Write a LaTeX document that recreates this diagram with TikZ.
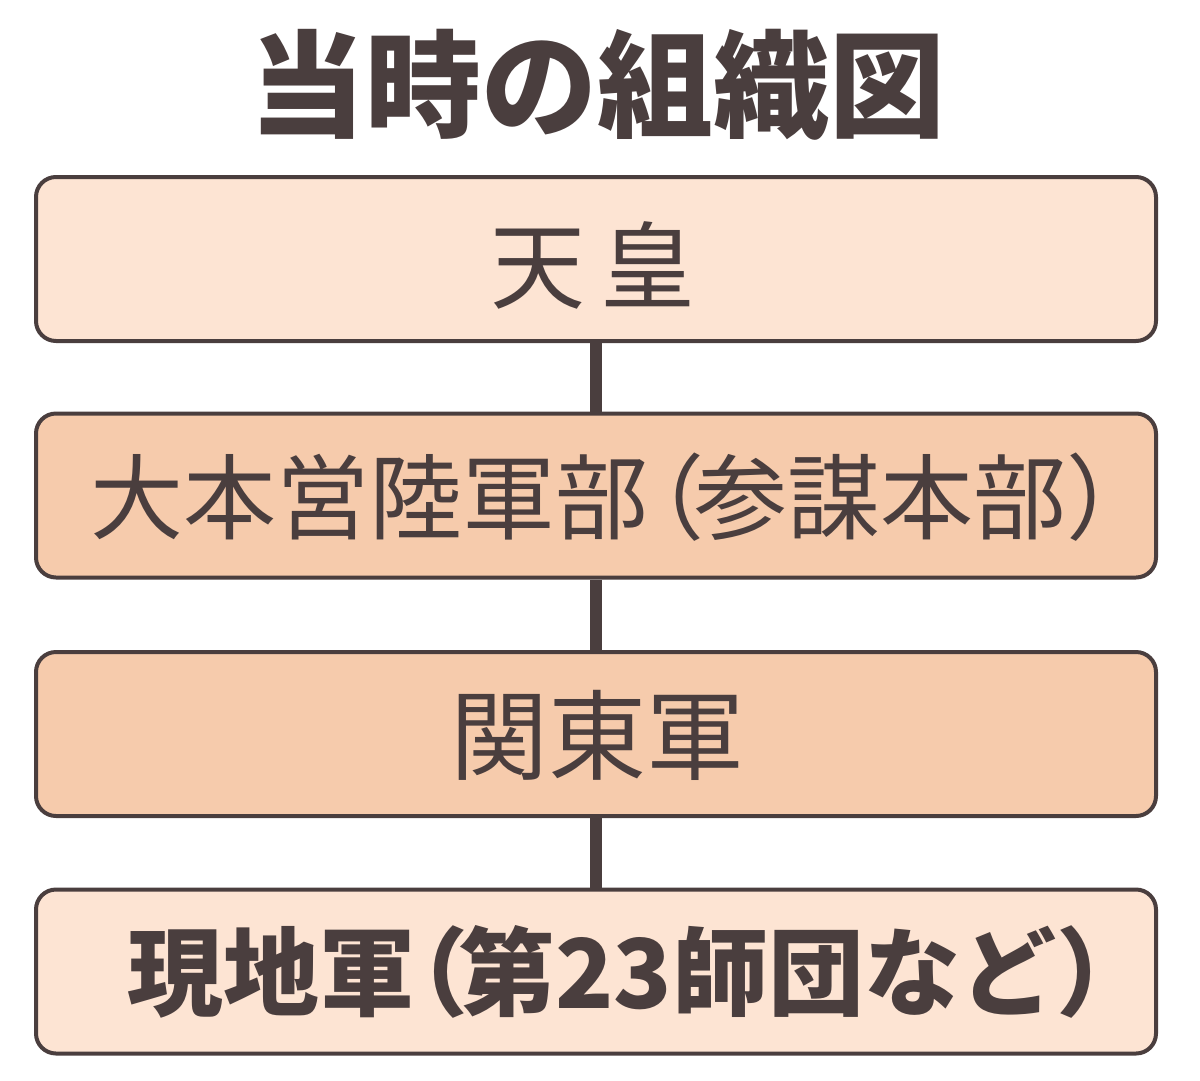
\documentclass[tikz,border=0pt]{standalone}
\usepackage{fontspec}
\newfontfamily\jp{Noto Sans CJK JP}
\definecolor{ink}{HTML}{4A3E3E}
\definecolor{lightfill}{HTML}{FDE4D3}
\definecolor{darkfill}{HTML}{F6CBAC}
\tikzset{
  orgbox/.style={draw=ink, line width=4pt, rounded corners=20pt, minimum width=1120pt, minimum height=164pt, inner sep=0pt},
  boxtext/.style={text=ink, inner sep=0pt},
  link/.style={draw=ink, line width=12pt}
}
\begin{document}
\begin{tikzpicture}[x=1pt,y=-1pt]
\useasboundingbox (0,0) rectangle (1200,1080);
\node[text=ink, font=\jp\bfseries\fontsize{116}{116}\selectfont] (title) at (597,85) {当時の組織図};
\node[orgbox, fill=lightfill] (b1) at (596,259) {};
\node[orgbox, fill=darkfill] (b2) at (596,495.5) {};
\node[orgbox, fill=darkfill] (b3) at (596,734) {};
\node[orgbox, fill=lightfill] (b4) at (596,971.5) {};
\node[boxtext, font=\jp\fontsize{95}{95}\selectfont] (t1) at (593,265) {天\hspace{15pt}皇};
\node[boxtext, font=\jp\fontsize{93}{93}\selectfont] (t2) at (625,497) {大本営陸軍部\hspace{-0.4em}（\hspace{-0.1em}参謀本部）\hspace{-0.4em}};
\node[boxtext, font=\jp\fontsize{98}{98}\selectfont] (t3) at (597,735) {関東軍};
\node[boxtext, font=\jp\bfseries\fontsize{96}{96}\selectfont] (t4) at (640,972) {現地軍\hspace{-0.45em}（\hspace{-0.1em}第23師団など）\hspace{-0.45em}};
\draw[link] (b1.south) -- (b2.north);
\draw[link] (b2.south) -- (b3.north);
\draw[link] (b3.south) -- (b4.north);
\end{tikzpicture}
\end{document}
